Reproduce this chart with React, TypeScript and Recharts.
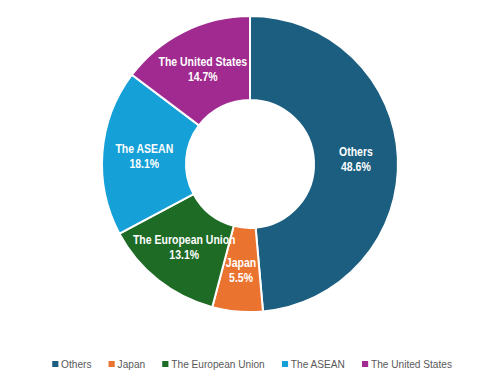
import { PieChart, Pie, Cell, Legend } from "recharts"

const regions = ["Others", "Japan", "The European Union", "The ASEAN", "The United States"]
const shares = [48.6, 5.5, 13.1, 18.1, 14.7]
const colors = ["#1B5E80", "#EA7330", "#1E6B25", "#16A0D8", "#A12A90"]

const data = regions.map((name, i) => ({ name, value: shares[i] }))

const FONT = "'Liberation Sans', Arial, sans-serif"
const RAD = Math.PI / 180

const renderLabel = (props: any) => {
  const { cx, cy, midAngle, innerRadius, outerRadius, name, value } = props
  const r = (innerRadius + outerRadius) / 2
  const x = cx + r * Math.cos(-midAngle * RAD)
  const y = cy + r * Math.sin(-midAngle * RAD)
  // squeeze horizontally to mimic the narrow font of the original
  return (
    <text
      transform={`translate(${x},${y}) scale(0.84,1)`}
      fill="#fff"
      textAnchor="middle"
      fontFamily={FONT}
      fontWeight="bold"
      fontSize={12.5}
    >
      <tspan x={0} dy={-3}>{name}</tspan>
      <tspan x={0} dy={15}>{value.toFixed(1)}%</tspan>
    </text>
  )
}

const renderLegend = () => (
  <div
    style={{
      display: "flex",
      justifyContent: "center",
      alignItems: "center",
      fontFamily: FONT,
      transform: "scaleX(0.88)",
    }}
  >
    {regions.map((name, i) => (
      <div
        key={name}
        style={{ display: "flex", alignItems: "center", marginRight: i < regions.length - 1 ? 19.3 : 0 }}
      >
        <span style={{ width: 7, height: 6, background: colors[i], marginRight: 3.4, display: "inline-block" }} />
        <span style={{ color: "#595959", fontSize: 11.5 }}>{name}</span>
      </div>
    ))}
  </div>
)

export default function App() {
  return (
    <div style={{ position: "absolute", left: 0, top: 0, width: 504, height: 377, background: "#fff" }}>
      <PieChart width={504} height={377} margin={{ top: 0, right: 0, bottom: 0, left: 0 }}>
        <Pie
          data={data}
          dataKey="value"
          nameKey="name"
          cx={250}
          cy={164}
          innerRadius={64}
          outerRadius={148}
          startAngle={90}
          endAngle={-270}
          stroke="#fff"
          strokeWidth={2}
          label={renderLabel}
          labelLine={false}
          isAnimationActive={false}
        >
          {data.map((d, i) => (
            <Cell key={d.name} fill={colors[i]} />
          ))}
        </Pie>
        <Legend verticalAlign="bottom" content={renderLegend} wrapperStyle={{ bottom: 7 }} />
      </PieChart>
    </div>
  )
}
